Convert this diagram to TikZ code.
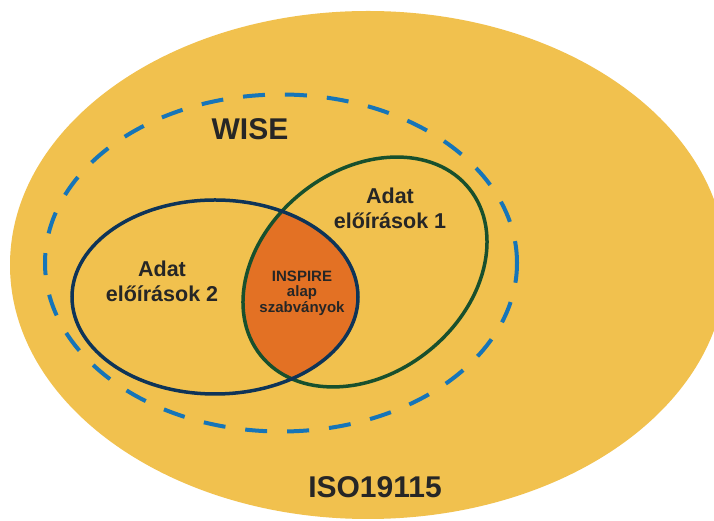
\documentclass[tikz,border=0pt]{standalone}
\usepackage{fontspec}
\setmainfont{Liberation Sans}
\definecolor{isoyellow}{RGB}{241,193,78}
\definecolor{inspireorange}{RGB}{227,113,36}
\definecolor{wiseblue}{RGB}{22,117,184}
\definecolor{adatnavy}{RGB}{14,52,88}
\definecolor{adatgreen}{RGB}{24,80,45}

\begin{document}
\begin{tikzpicture}[x=1pt, y=1pt,
		setlabel/.style={font=\bfseries\fontsize{30}{34}\selectfont, text=black!85},
		adatlabel/.style={font=\bfseries\fontsize{21.5}{25}\selectfont, align=center, text=black!85},
		inspirelabel/.style={font=\bfseries\fontsize{15}{15.5}\selectfont, align=center, text=black!85},
		adatline/.style={line width=3.5pt}]
			\clip (0,0) rectangle (714,521);
			\fill[white] (0,0) rectangle (714,521);
			
			% Outer sets
			\fill[isoyellow] (368,256) ellipse [x radius=358, y radius=254];
			\draw[wiseblue, line width=4pt, dash pattern=on 22pt off 20pt] (281,258) ellipse [x radius=236, y radius=168.5];
			
			% Intersection
			\begin{scope}
				\clip (215,224) ellipse [x radius=143, y radius=97];
				\fill[inspireorange, rotate around={38.6:(365,249)}] (365,249) ellipse [x radius=133.5, y radius=101.4];
			\end{scope}
			
			% Data specifications
			\draw[adatline, adatgreen, rotate around={38.6:(365,249)}] (365,249) ellipse [x radius=133.5, y radius=101.4];
			\draw[adatline, adatnavy] (215,224) ellipse [x radius=143, y radius=97];
			
			% Labels
			\node[setlabel] (wise) at (250,392) {WISE};
			\node[setlabel] (iso) at (375,34) {ISO19115};
			\node[adatlabel] (adat1) at (390,313) {Adat\\előírások 1};
			\node[adatlabel] (adat2) at (162,240) {Adat\\előírások 2};
			\node[inspirelabel] (inspire) at (302,228) {INSPIRE\\alap\\szabványok};
		\end{tikzpicture}
\end{document}
